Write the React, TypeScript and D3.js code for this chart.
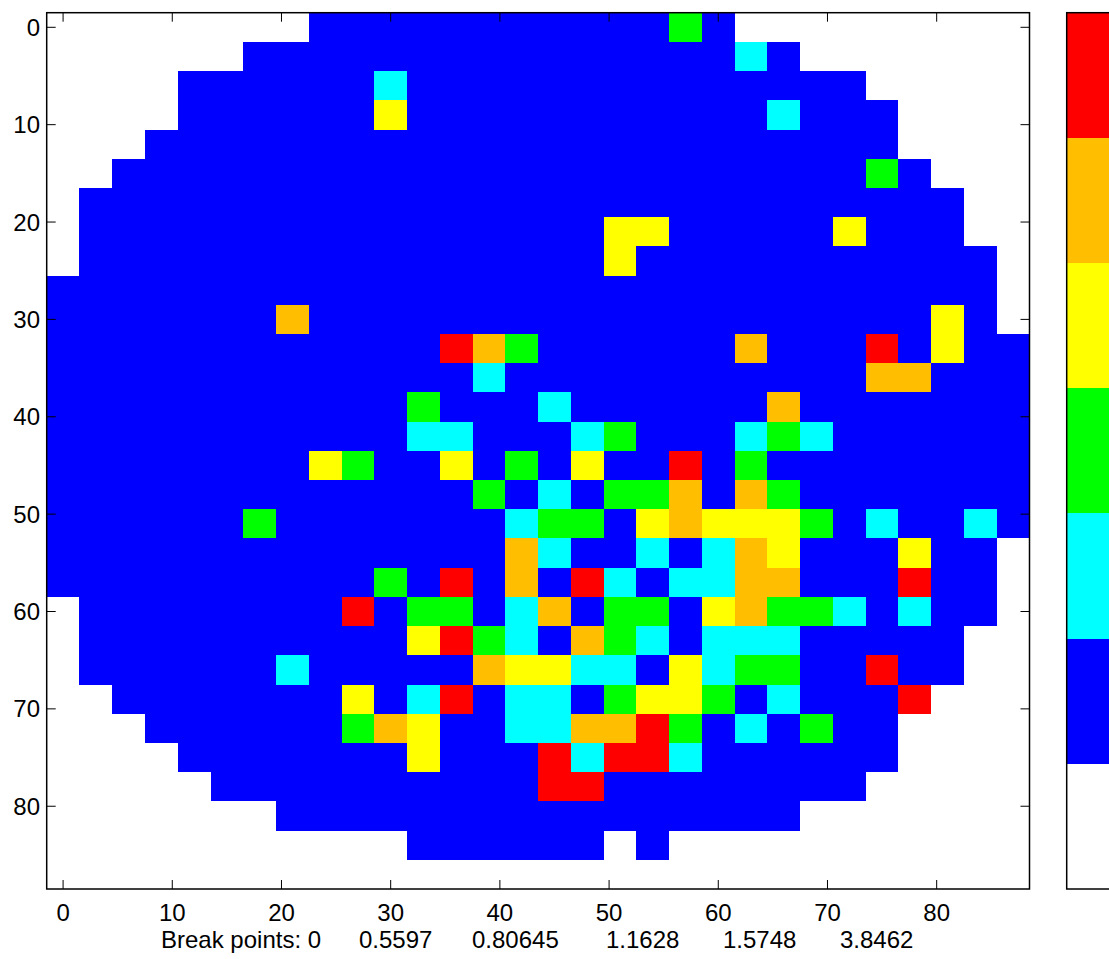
import React from "react";
import * as d3 from "d3";

// Class grid: rows top->bottom (y = 0,3,...,87), columns left->right (x = 0,3,...,87)
// '.' white (below first break), b blue, c cyan, g green, y yellow, o orange, r red
const gridRows: string[] = [
  "........bb bbbbbbbbbg b.........",
  "......bbbb bbbbbbbbbb bcb.......",
  "....bbbbbb cbbbbbbbbb bbbbb.....",
  "....bbbbbb ybbbbbbbbb bbcbbb....",
  "...bbbbbbb bbbbbbbbbb bbbbbb....",
  "..bbbbbbbb bbbbbbbbbb bbbbbgb...",
  ".bbbbbbbbb bbbbbbbbbb bbbbbbbb..",
  ".bbbbbbbbb bbbbbbbyyb bbbbybbb..",
  ".bbbbbbbbb bbbbbbbybb bbbbbbbbb.",
  "bbbbbbbbbb bbbbbbbbbb bbbbbbbbb.",
  "bbbbbbbobb bbbbbbbbbb bbbbbbbyb.",
  "bbbbbbbbbb bbrogbbbbb bobbbrbybb",
  "bbbbbbbbbb bbbcbbbbbb bbbbboobbb",
  "bbbbbbbbbb bgbbbcbbbb bbobbbbbbb",
  "bbbbbbbbbb bccbbbcgbb bcgcbbbbbb",
  "bbbbbbbbyg bbybgbybbr bgbbbbbbbb",
  "bbbbbbbbbb bbbgbcbggo bogbbbbbbb",
  "bbbbbbgbbb bbbbcggbyo yyygbcbbcb",
  "bbbbbbbbbb bbbbocbbcb coybbbybb.",
  "bbbbbbbbbb gbrbobrcbc coobbbrbb.",
  ".bbbbbbbbr bggbcobggb yoggcbcbb.",
  ".bbbbbbbbb byrgcbogcb cccbbbbb..",
  ".bbbbbbcbb bbboyyccby cggbbrbb..",
  "..bbbbbbby bcrbccbgyy gbcbbbr...",
  "...bbbbbbg oybbccoorg bcbgbb....",
  "....bbbbbb bybbbrcrrc bbbbbb....",
  ".....bbbbb bbbbbrrbbb bbbbb.....",
  ".......bbb bbbbbbbbbb bbb.......",
  ".......... .bbbbbb.b. ..........",
  ".......... .......... ..........",
];

const classKeys = [".", "b", "c", "g", "y", "o", "r"];
const classColors = ["#FFFFFF", "#0000FF", "#00FFFF", "#00FF00", "#FFFF00", "#FFBF00", "#FF0000"];
const breakPoints = [0, 0.5597, 0.80645, 1.1628, 1.5748, 3.8462];
const xTicks = [0, 10, 20, 30, 40, 50, 60, 70, 80];
const yTicks = [0, 10, 20, 30, 40, 50, 60, 70, 80];
const cellStep = 3;

// layout: left edges of the break-point label pieces
const breakLabelX = [161, 359, 472, 606, 723, 840];

const W = 1109;
const H = 959;
const FONT = "'Liberation Sans', Arial, Helvetica, sans-serif";
const FS = 24;

export default function App() {
  const rows = gridRows.map((r) => r.replace(/ /g, ""));
  const nRows = rows.length;
  const nCols = rows[0].length;
  const x = d3.scaleLinear().domain([-cellStep / 2, (nCols - 0.5) * cellStep]).range([46.7, 1029.5]);
  const y = d3.scaleLinear().domain([-cellStep / 2, (nRows - 0.5) * cellStep]).range([12.7, 889]);
  const color = d3.scaleOrdinal<string, string>().domain(classKeys).range(classColors);

  const cells: { key: string; x0: number; x1: number; y0: number; y1: number; fill: string }[] = [];
  rows.forEach((row, ri) => {
    row.split("").forEach((ch, ci) => {
      const cx = ci * cellStep;
      const cy = ri * cellStep;
      cells.push({
        key: `${ri}-${ci}`,
        x0: x(cx - cellStep / 2),
        x1: x(cx + cellStep / 2),
        y0: y(cy - cellStep / 2),
        y1: y(cy + cellStep / 2),
        fill: color(ch),
      });
    });
  });

  const [px0, px1] = x.range();
  const [py0, py1] = y.range();
  const tickLen = 9;

  const cbClasses = classKeys.slice().reverse();
  const cb = d3.scaleBand<string>().domain(cbClasses).range([py0, py1]);
  const cbX0 = 1066.7;
  const cbX1 = 1125;

  const pieces = breakPoints.map((b, i) => (i === 0 ? "Break points: " + String(b) : String(b)));

  return (
    <svg
      width={W}
      height={H}
      style={{ position: "absolute", left: 0, top: 0, background: "#fff" }}
      fontFamily={FONT}
    >
      <rect x={0} y={0} width={W} height={H} fill="#fff" />
      <g shapeRendering="crispEdges">
        {cells.map((c) => (
          <rect key={c.key} x={c.x0} y={c.y0} width={c.x1 - c.x0 + 0.4} height={c.y1 - c.y0 + 0.4} fill={c.fill} />
        ))}
      </g>
      <rect x={px0} y={py0} width={px1 - px0} height={py1 - py0} fill="none" stroke="#000" strokeWidth={1.5} />
      {xTicks.map((t) => (
        <g key={"xt" + t}>
          <line x1={x(t)} x2={x(t)} y1={py1} y2={py1 - tickLen} stroke="#000" strokeWidth={1} />
          <line x1={x(t)} x2={x(t)} y1={py0} y2={py0 + tickLen} stroke="#000" strokeWidth={1} />
          <text x={x(t)} y={921} textAnchor="middle" fontSize={FS} fill="#000">
            {t}
          </text>
        </g>
      ))}
      {yTicks.map((t) => (
        <g key={"yt" + t}>
          <line x1={px0} x2={px0 + tickLen} y1={y(t)} y2={y(t)} stroke="#000" strokeWidth={1} />
          <line x1={px1} x2={px1 - tickLen} y1={y(t)} y2={y(t)} stroke="#000" strokeWidth={1} />
          <text x={40} y={y(t) + 8.5} textAnchor="end" fontSize={FS} fill="#000">
            {t}
          </text>
        </g>
      ))}
      {pieces.map((p, i) => (
        <text key={"bp" + i} x={breakLabelX[i]} y={948} fontSize={FS} fill="#000">
          {p}
        </text>
      ))}
      <g shapeRendering="crispEdges">
        {cbClasses.map((k) => (
          <rect key={"cb" + k} x={cbX0} y={cb(k)!} width={cbX1 - cbX0} height={cb.bandwidth() + 0.5} fill={color(k)} />
        ))}
      </g>
      <rect x={cbX0} y={py0} width={cbX1 - cbX0} height={py1 - py0} fill="none" stroke="#000" strokeWidth={1.5} />
    </svg>
  );
}
